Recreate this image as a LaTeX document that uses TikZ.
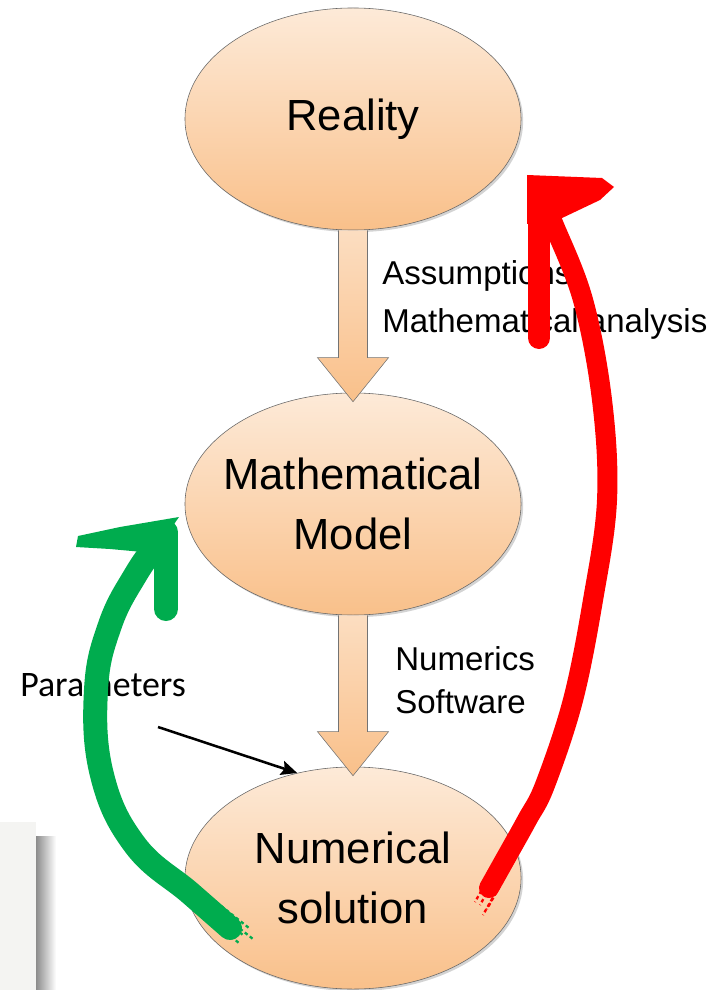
\documentclass[tikz,border=0pt]{standalone}
\usepackage{fontspec}
\setmainfont{Liberation Sans}
\newfontfamily\paramfont{Carlito}
\usetikzlibrary{positioning,arrows.meta,calc,shapes.geometric,shadows}
\definecolor{peachtop}{HTML}{FDEAD8}
\definecolor{peachbot}{HTML}{F9C08A}
\definecolor{brushgreen}{HTML}{00AC4E}
\definecolor{brushred}{HTML}{FF0000}
\definecolor{panelgray}{HTML}{F4F4F2}
\tikzset{
  bubble/.style={ellipse, draw=black!60, top color=peachtop, bottom color=peachbot,
                 minimum width=8.4cm, minimum height=5.55cm, inner xsep=-40pt, inner ysep=-20pt,
                 align=center, font=\fontsize{31}{42.5}\selectfont,
                 drop shadow={shadow xshift=1.5pt, shadow yshift=-1.5pt, opacity=0.35}},
  blockarr/.style={draw=black!55, top color=peachtop!70!peachbot, bottom color=peachbot},
  steplbl/.style={align=left, inner sep=0pt, anchor=base west,
                  font=\fontsize{23.5}{34}\selectfont},
  brush/.style={line width=0.6cm, line cap=round, line join=round},
  spray/.style={line width=1.6pt, dash pattern=on 2.5pt off 2pt},
  pointer/.style={-{Stealth[length=4mm,width=3.6mm,inset=0.7mm]}, line width=1.8pt},
}
\begin{document}
\begin{tikzpicture}[x=0.025cm, y=-0.025cm]
  \useasboundingbox (0,0) rectangle (720,990);
  % grey panel, lower left
  \shade[left color=black!45, right color=white] (36,836) rectangle (56,990);
  \fill[panelgray] (0,822) rectangle (36,990);
  % the three stages
  \node[bubble] (real) at (353,119) {Reality};
  \node[bubble] (model) at (353,504) {Mathematical\\Model};
  \node[bubble] (numsol) at (353,878) {Numerical\\solution};
  % block arrows
  \foreach \a/\b in {real/model, model/numsol} {
    \draw[blockarr] ($(\a.south)+(-14.5,0)$) -- ($(\b.north)+(-14.5,-35)$) -- ($(\b.north)+(-35.5,-35)$)
      -- ($(\b.north)+(0,9)$) -- ($(\b.north)+(35.5,-35)$) -- ($(\b.north)+(14.5,-35)$)
      -- ($(\a.south)+(14.5,0)$);
  }
  \node[steplbl] (assum) at (382,332) {Assumptions\\Mathematical analysis};
  \node[steplbl, font=\fontsize{23.5}{30.5}\selectfont] (numlbl) at (395,713) {Numerics\\Software};
  \node[font=\paramfont\fontsize{25.5}{30}\selectfont, inner sep=0pt, anchor=base west] (param) at (20,696) {Parameters};
  % pointer to the solution
  \coordinate (ptail) at (158,727);
  \draw[pointer] (ptail) -- (numsol.118);

  % green brush stroke: solution back to model
  \coordinate (gfoot) at ($(numsol)+(-123,50)$);
  \draw[brush, brushgreen] plot[smooth, tension=0.7] coordinates
    {(gfoot) (190,893) (135,845) (102,775) (96,690) (110,625) (136,574) (160,540)};
  \foreach \dx/\dy in {0/0, 6/-7, -4/8, 10/4} {
    \draw[spray, brushgreen] (205+\dx,905+\dy) -- (243+\dx,935+\dy);
  }
  \fill[brushgreen] (179,517) -- (120,527) -- (78,536) -- (76,547) -- (110,549) -- (154,553) -- cycle;
  \draw[brushgreen, line width=0.6cm, line cap=round] (166,532) -- (166,609);

  % red brush stroke: solution back to reality
  \coordinate (rfoot) at ($(numsol)+(136,10)$);
  \draw[brush, brushred, line width=0.5cm] plot[smooth, tension=0.6] coordinates
    {(rfoot) (503,863) (527,820) (545,785) (573,700) (593,600) (607,500) (602,400) (583,300) (553,223) (543,200)};
  \foreach \dx/\dy in {0/0, 7/4, -5/-3, 3/10} {
    \draw[spray, brushred] (508+\dx,855+\dy) -- (480+\dx,905+\dy);
  }
  \draw[brushred, line width=0.55cm, line cap=round] (539,192) -- (539,338);
  \fill[brushred] (527,175) -- (602,178) -- (614,187) -- (600,200) -- (560,219) -- (527,224) -- cycle;
\end{tikzpicture}
\end{document}
